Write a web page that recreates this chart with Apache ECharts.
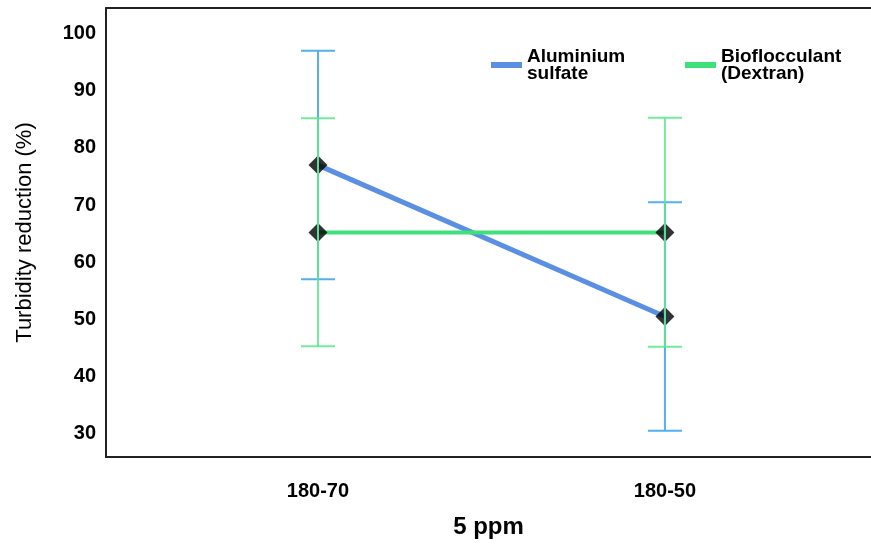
<!DOCTYPE html>
<html>
<head>
<meta charset="utf-8">
<script src="https://cdn.jsdelivr.net/npm/echarts@6/dist/echarts.min.js"></script>
<style>
  html, body { margin: 0; padding: 0; background: #fff; }
  #chart { width: 871px; height: 550px; }
</style>
</head>
<body>
<div id="chart"></div>
<script>
const categories = ["180-70", "180-50"];
const yTicks = [30, 40, 50, 60, 70, 80, 90, 100];

const alumMean = [77.0, 50.5];
const alumLow = [57.0, 30.5];
const alumHigh = [97.0, 70.5];

const bioMean = [65.2, 65.2];
const bioLow = [45.3, 45.2];
const bioHigh = [85.2, 85.3];

const FONT = "Liberation Sans, Arial, sans-serif";
const frame = { show: true, onZero: false, lineStyle: { color: "#222", width: 2 } };

const chart = echarts.init(document.getElementById("chart"));

// error bars: stem + caps, drawn over the markers
function errorBars(color) {
  return function (params, api) {
    const x = api.value(0);
    const lo = api.coord([x, api.value(1)]);
    const hi = api.coord([x, api.value(2)]);
    const half = 17;
    const style = { stroke: color, lineWidth: 2 };
    return {
      type: "group",
      children: [
        { type: "line", shape: { x1: lo[0], y1: lo[1], x2: hi[0], y2: hi[1] }, style },
        { type: "line", shape: { x1: hi[0] - half, y1: hi[1], x2: hi[0] + half, y2: hi[1] }, style },
        { type: "line", shape: { x1: lo[0] - half, y1: lo[1], x2: lo[0] + half, y2: lo[1] }, style },
      ],
    };
  };
}

const pts = (arr) => arr.map((v, i) => [i, v]);
const bars = (lo, hi) => lo.map((v, i) => [i, v, hi[i]]);

const legendText = {
  fontFamily: FONT,
  fontWeight: "bold",
  fontSize: 19,
  lineHeight: 17,
  color: "#000",
};

chart.setOption({
  animation: false,
  backgroundColor: "#fff",
  grid: {
    left: 106,
    top: 8,
    bottom: 93,
    right: 0,
  },
  legend: [
    {
      data: [{ name: "Aluminium sulfate", itemStyle: { color: "#5b8fe3" } }],
      left: 491,
      top: 47,
      padding: 0,
      icon: "rect",
      itemWidth: 31,
      itemHeight: 6,
      itemGap: 5,
      formatter: () => "Aluminium\nsulfate",
      textStyle: legendText,
    },
    {
      data: [{ name: "Bioflocculant (Dextran)", itemStyle: { color: "#3ee07a" } }],
      left: 685,
      top: 47,
      padding: 0,
      icon: "rect",
      itemWidth: 31,
      itemHeight: 6,
      itemGap: 5,
      formatter: () => "Bioflocculant\n(Dextran)",
      textStyle: legendText,
    },
  ],
  xAxis: [
    {
      type: "value",
      min: -0.611,
      max: 1.594,
      name: "5 ppm",
      nameLocation: "middle",
      nameGap: 58,
      nameTextStyle: { fontFamily: FONT, fontWeight: "bold", fontSize: 24, color: "#000" },
      axisLine: frame,
      axisTick: { show: false },
      splitLine: { show: false },
      axisLabel: {
        customValues: [0, 1],
        formatter: (v) => categories[Math.round(v)],
        margin: 24,
        fontFamily: FONT,
        fontWeight: "bold",
        fontSize: 20,
        color: "#000",
      },
    },
    {
      // top edge of the frame
      type: "value",
      position: "top",
      min: -0.611,
      max: 1.594,
      axisLine: frame,
      axisTick: { show: false },
      axisLabel: { show: false },
      splitLine: { show: false },
    },
  ],
  yAxis: {
    type: "value",
    min: 25.9,
    max: 104.5,
    name: "Turbidity reduction (%)",
    nameLocation: "middle",
    nameGap: 70,
    nameTextStyle: { fontFamily: FONT, fontSize: 22, color: "#000" },
    axisLine: frame,
    axisTick: { show: false },
    splitLine: { show: false },
    axisLabel: {
      customValues: yTicks,
      margin: 10,
      fontFamily: FONT,
      fontWeight: "bold",
      fontSize: 20,
      color: "#000",
    },
  },
  series: [
    {
      name: "Aluminium sulfate",
      type: "line",
      data: pts(alumMean),
      showSymbol: false,
      lineStyle: { color: "#5b8fe3", width: 5 },
      itemStyle: { color: "#5b8fe3" },
      z: 2,
    },
    {
      name: "Bioflocculant (Dextran)",
      type: "line",
      data: pts(bioMean),
      showSymbol: false,
      lineStyle: { color: "#3ee07a", width: 4 },
      itemStyle: { color: "#3ee07a" },
      z: 2,
    },
    {
      type: "custom",
      renderItem: errorBars("#55aef0"),
      data: bars(alumLow, alumHigh),
      z: 4,
    },
    {
      type: "custom",
      renderItem: errorBars("rgba(90,232,140,0.85)"),
      data: bars(bioLow, bioHigh),
      z: 5,
    },
    {
      type: "scatter",
      data: pts(alumMean).concat(pts(bioMean)),
      symbol: "diamond",
      symbolSize: 19,
      itemStyle: { color: "#000" },
      z: 3,
    },
  ],
});
</script>
</body>
</html>
